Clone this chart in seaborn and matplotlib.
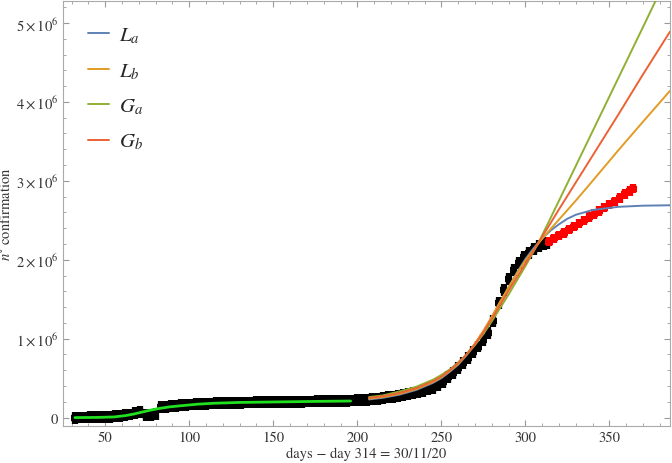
import matplotlib
matplotlib.use("Agg")
import matplotlib.pyplot as plt
from matplotlib.ticker import MultipleLocator, FixedLocator, FixedFormatter
import pandas as pd
import seaborn as sns

# observed data (black = fitted part, red = after day 314), values in millions
days_obs = [32, 35, 38, 41, 44, 47, 50, 53, 56, 59, 62, 65, 68, 71, 74, 77, 80, 83,
            86, 89, 92, 95, 98, 101, 104, 107, 110, 113, 116, 119, 122, 125, 128,
            131, 134, 137, 140, 143, 146, 149, 152, 155, 158, 161, 164, 167, 170,
            173, 176, 179, 182, 185, 188, 191, 194, 197, 200, 203, 206, 209, 212,
            215, 218, 221, 224, 227, 230, 233, 236, 239, 242, 245, 248, 251, 254,
            257, 260, 263, 266, 269, 272, 275, 278, 281, 284, 287, 290, 293, 296,
            299, 302, 305, 308, 311, 313]
conf_obs = [0.000, 0.001, 0.002, 0.003, 0.004, 0.006, 0.008, 0.011, 0.015, 0.020,
            0.028, 0.040, 0.055, 0.072, 0.035, 0.035, 0.045, 0.130, 0.138, 0.145,
            0.150, 0.155, 0.160, 0.165, 0.169, 0.172, 0.175, 0.178, 0.181, 0.183,
            0.185, 0.187, 0.189, 0.190, 0.191, 0.192, 0.193, 0.194, 0.195, 0.196,
            0.197, 0.198, 0.199, 0.200, 0.201, 0.202, 0.203, 0.204, 0.205, 0.206,
            0.207, 0.208, 0.210, 0.212, 0.214, 0.216, 0.219, 0.222, 0.226, 0.232,
            0.240, 0.248, 0.257, 0.266, 0.276, 0.287, 0.299, 0.312, 0.326, 0.341,
            0.357, 0.375, 0.410, 0.455, 0.510, 0.570, 0.630, 0.690, 0.760, 0.830,
            0.900, 0.980, 1.070, 1.220, 1.450, 1.620, 1.760, 1.870, 1.960, 2.030,
            2.090, 2.140, 2.170, 2.200, 2.210]

days_new = [314, 317, 320, 323, 326, 329, 332, 335, 338, 341, 344, 347, 350, 353,
            356, 359, 362, 364]
conf_new = [2.23, 2.27, 2.31, 2.34, 2.38, 2.42, 2.46, 2.50, 2.54, 2.58, 2.62, 2.66,
            2.70, 2.74, 2.78, 2.83, 2.87, 2.90]

# first wave fit (bright green)
days_w1 = [32, 45, 55, 62, 67, 72, 77, 82, 88, 95, 105, 115, 130, 150, 175, 196]
fit_w1 = [0.0, 0.002, 0.008, 0.025, 0.045, 0.07, 0.095, 0.115, 0.135, 0.15, 0.17,
          0.182, 0.192, 0.198, 0.205, 0.21]

# second wave model curves
days_fit = [207, 215, 225, 235, 245, 250, 255, 260, 265, 270, 275, 280, 285, 290,
            295, 300, 305, 309, 315, 320, 325, 330, 340, 355, 370, 386]
L_a = [0.23, 0.25, 0.29, 0.35, 0.44, 0.50, 0.58, 0.67, 0.79, 0.93, 1.09, 1.27, 1.46,
       1.65, 1.84, 2.01, 2.15, 2.25, 2.37, 2.45, 2.52, 2.57, 2.63, 2.67, 2.685, 2.69]
L_b = [0.24, 0.26, 0.30, 0.36, 0.45, 0.51, 0.59, 0.68, 0.80, 0.94, 1.10, 1.28, 1.47,
       1.65, 1.83, 1.99, 2.13, 2.24, 2.39, 2.51, 2.63, 2.75, 3.00, 3.38, 3.75, 4.14]
G_a = [0.26, 0.28, 0.33, 0.39, 0.48, 0.54, 0.61, 0.70, 0.80, 0.92, 1.06, 1.22, 1.39,
       1.56, 1.74, 1.92, 2.11, 2.27, 2.53, 2.75, 2.97, 3.19, 3.63, 4.29, 4.95, 5.66]
G_b = [0.25, 0.27, 0.31, 0.37, 0.46, 0.52, 0.60, 0.69, 0.80, 0.93, 1.08, 1.25, 1.43,
       1.61, 1.78, 1.95, 2.12, 2.26, 2.465, 2.64, 2.81, 2.98, 3.32, 3.83, 4.35, 4.89]

sns.set_style("ticks")
plt.rcParams["font.family"] = ["STIXGeneral", "DejaVu Serif"]
plt.rcParams["mathtext.fontset"] = "stix"

fig = plt.figure(figsize=(6.72, 4.64), dpi=100)
ax = fig.add_axes([0.094, 0.080, 0.903, 0.916])

M = 1e6
# observed points drawn as thick error crosses
ax.errorbar(days_obs, [v * M for v in conf_obs], xerr=2.2, yerr=0.075 * M,
            fmt="none", ecolor="black", elinewidth=4.5, zorder=2)
ax.errorbar(days_new, [v * M for v in conf_new], xerr=2.2, yerr=0.06 * M,
            fmt="none", ecolor="#ff0000", elinewidth=4.5, zorder=2)

sns.lineplot(x=days_w1, y=[v * M for v in fit_w1], color="#20e020", lw=2.0,
             ax=ax, zorder=3, legend=False)

df = pd.DataFrame({
    "day": days_fit * 4,
    "value": [v * M for v in L_a + L_b + G_a + G_b],
    "model": ["$L_a$"] * len(days_fit) + ["$L_b$"] * len(days_fit)
             + ["$G_a$"] * len(days_fit) + ["$G_b$"] * len(days_fit),
})
palette = {"$L_a$": "#5e81b5", "$L_b$": "#e19c24", "$G_a$": "#8fb032", "$G_b$": "#eb6235"}
sns.lineplot(data=df, x="day", y="value", hue="model", palette=palette, lw=1.4,
             ax=ax, zorder=4)

ax.set_xlim(25, 386)
ax.set_ylim(-0.105 * M, 5.28 * M)

ax.xaxis.set_major_locator(MultipleLocator(50))
ax.xaxis.set_minor_locator(MultipleLocator(10))
yt = [0, 1e6, 2e6, 3e6, 4e6, 5e6]
ax.yaxis.set_major_locator(FixedLocator(yt))
ax.yaxis.set_major_formatter(FixedFormatter(["0"] + [r"$%d\times10^{6}$" % i for i in range(1, 6)]))
ax.yaxis.set_minor_locator(MultipleLocator(0.2e6))

ax.tick_params(which="both", direction="in", top=True, right=True, color="#999999",
               labelsize=10.5, labelcolor="#333333")
ax.tick_params(which="major", length=4)
ax.tick_params(which="minor", length=2.2)
for s in ax.spines.values():
    s.set_color("#aaaaaa")
    s.set_linewidth(0.8)

ax.set_xlabel("days − day 314 = 30/11/20", fontsize=10.5, color="#333333", labelpad=2)
ax.set_ylabel(r"$n^{\circ}$ confirmation", fontsize=10.5, color="#333333", labelpad=2)

leg = ax.legend(loc="upper left", frameon=False, fontsize=15, handlelength=1.0,
                labelspacing=0.75, borderaxespad=0.8, handletextpad=0.5)

fig.savefig("out.png", dpi=100)
